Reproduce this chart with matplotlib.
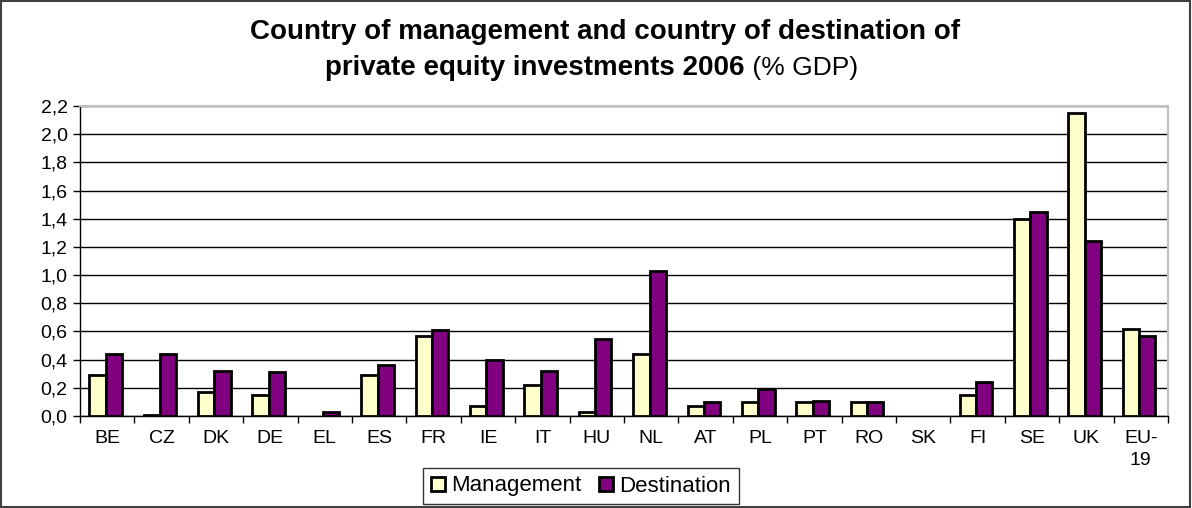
import matplotlib
matplotlib.use("Agg")
import numpy as np
from matplotlib import pyplot as plt
from matplotlib.patches import Rectangle
from matplotlib.ticker import FuncFormatter

plt.rcParams['font.family'] = ['Liberation Sans', 'DejaVu Sans']

countries = ["BE", "CZ", "DK", "DE", "EL", "ES", "FR", "IE", "IT", "HU",
             "NL", "AT", "PL", "PT", "RO", "SK", "FI", "SE", "UK", "EU-\n19"]
management = [0.29, 0.01, 0.17, 0.15, 0.00, 0.29, 0.57, 0.07, 0.22, 0.03,
              0.44, 0.07, 0.10, 0.10, 0.10, 0.00, 0.15, 1.40, 2.15, 0.62]
destination = [0.44, 0.44, 0.32, 0.31, 0.03, 0.36, 0.61, 0.40, 0.32, 0.55,
               1.03, 0.10, 0.19, 0.11, 0.10, 0.00, 0.24, 1.45, 1.24, 0.57]

fig = plt.figure(figsize=(11.92, 5.08), dpi=100)
ax = fig.add_axes([80 / 1192, 1 - 416 / 508, 1088 / 1192, 310 / 508])

x = np.arange(len(countries))
w = 0.3
b1 = ax.bar(x - w / 2 - 0.03, management, w, color="#FFFFCC", edgecolor="black",
            linewidth=2, label="Management", zorder=3)
b2 = ax.bar(x + w / 2 - 0.03, destination, w, color="#800080", edgecolor="black",
            linewidth=2, label="Destination", zorder=3)
# empty values leave no mark
for bars, vals in [(b1, management), (b2, destination)]:
    for b, v in zip(bars, vals):
        if v == 0:
            b.set_linewidth(0)

ax.set_xlim(-0.5, len(countries) - 0.5)
ax.set_ylim(0, 2.2)
ax.set_yticks(np.arange(0, 2.21, 0.2))
ax.yaxis.set_major_formatter(FuncFormatter(lambda v, p: ("%.1f" % v).replace(".", ",")))
ax.grid(axis="y", color="black", linewidth=1.0, zorder=0)
ax.set_xticks(x)
ax.set_xticklabels(countries, va="top", linespacing=1.4)
ax.set_xticks(np.arange(-0.5, len(countries), 1), minor=True)
ax.tick_params(axis="x", which="major", length=0, pad=10, labelsize=14)
ax.tick_params(axis="x", which="minor", length=5, width=1, direction="out")
ax.tick_params(axis="y", length=5, width=1, labelsize=14, pad=4)
for s in ["top", "right"]:
    ax.spines[s].set_color("#C0C0C0")
    ax.spines[s].set_linewidth(1.5)
ax.spines["left"].set_linewidth(1)
ax.spines["bottom"].set_linewidth(1)

# title: first line bold, second line bold with plain suffix
fig.text(605 / 1192, 1 - 32 / 508, "Country of management and country of destination of",
         ha="center", va="center", fontsize=20, fontweight="bold")
t2 = fig.text(535 / 1192, 1 - 68 / 508, "private equity investments 2006",
              ha="center", va="center", fontsize=20, fontweight="bold")
ax.annotate(" (% GDP)", xy=(1, 0.5), xycoords=t2, va="center", ha="left", fontsize=19)

leg = fig.legend(loc="center", bbox_to_anchor=(581 / 1192, 1 - 486 / 508), ncol=2,
                 fontsize=16, frameon=True, fancybox=False, edgecolor="black",
                 handlelength=0.6, handleheight=0.6, handletextpad=0.3,
                 columnspacing=0.8, borderpad=0.35)
leg.get_frame().set_linewidth(1)

fig.patches.append(Rectangle((0.001, 0.001), 0.997, 0.997, transform=fig.transFigure,
                             fill=False, edgecolor="#404040", linewidth=1.5))

fig.savefig("out.png", dpi=100)
